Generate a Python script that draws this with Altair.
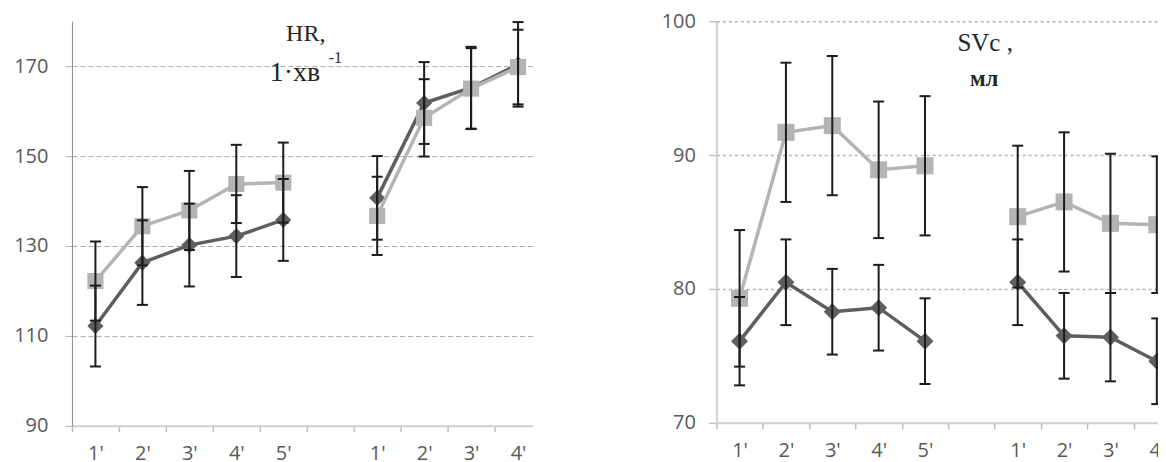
import json
import altair as alt
import pandas as pd

# ---------------- data ----------------
cats = ["1'", "2'", "3'", "4'", "5'", "", "1'", "2'", "3'", "4'"]
slots = [0, 1, 2, 3, 4, 6, 7, 8, 9]
groups = [1, 1, 1, 1, 1, 2, 2, 2, 2]

hr_dark = [112.2, 126.3, 130.2, 132.2, 135.8, 140.7, 161.8, 165.2, 170.4]
hr_dark_err = [9.0, 9.4, 9.2, 9.1, 9.1, 9.3, 9.1, 9.1, 9.4]
hr_light = [122.2, 134.4, 137.9, 143.8, 144.1, 136.7, 158.5, 165.0, 169.8]
hr_light_err = [8.8, 8.7, 8.8, 8.7, 8.9, 8.7, 8.6, 9.0, 8.3]

sv_dark = [76.1, 80.5, 78.3, 78.6, 76.1, 80.5, 76.5, 76.4, 74.6]
sv_dark_err = [3.3, 3.2, 3.2, 3.2, 3.2, 3.2, 3.2, 3.3, 3.2]
sv_light = [79.3, 91.7, 92.2, 88.9, 89.2, 85.4, 86.5, 84.9, 84.8]
sv_light_err = [5.1, 5.2, 5.2, 5.1, 5.2, 5.3, 5.2, 5.2, 5.1]

hr_ticks = [90, 110, 130, 150, 170]
sv_ticks = [70, 80, 90, 100]

DARK = "#5e5e5e"
LIGHT = "#b4b4b4"
BAR = "#1c1c1c"
LABEL_FONT = "Open Sans"
SERIF = "Liberation Serif"


def frame(dark, dark_err, light, light_err):
    rows = []
    for series, vals, errs in (("A", dark, dark_err), ("B", light, light_err)):
        for s, g, v, e in zip(slots, groups, vals, errs):
            rows.append(dict(pos=s + 0.5, group=g, series=series,
                             val=v, lo=v - e, hi=v + e))
    return pd.DataFrame(rows)


def panel(df, width, height, band, ydom, yaxis, texts, msize):
    xmax = width / band
    xscale = alt.Scale(domain=[0, xmax], nice=False, zero=False)
    xaxis = alt.Axis(
        values=list(range(10)),
        labelExpr=json.dumps(cats) + "[round(datum.value)]",
        labelOffset=band / 2,
        labelFlush=False,
        labelOverlap=False,
        grid=False,
        title=None,
        domainColor="#d0d0d0",
        domainWidth=2,
        tickColor="#bdbdbd",
        tickWidth=1.5,
        tickSize=6,
        labelPadding=12,
        labelFont=LABEL_FONT,
        labelFontSize=20,
        labelColor="#595959",
    )
    yscale = alt.Scale(domain=ydom, nice=False, zero=False)

    def X():
        return alt.X("pos:Q", scale=xscale, axis=xaxis)

    def Y(field):
        return alt.Y(field, scale=yscale, axis=yaxis)

    base = alt.Chart(df)
    dark = base.transform_filter("datum.series == 'A'")
    light = base.transform_filter("datum.series == 'B'")

    layers = [
        dark.mark_line(color=DARK, strokeWidth=3.5).encode(
            x=X(), y=Y("val:Q"), detail="group:N"),
        dark.mark_point(shape="diamond", filled=True, size=msize, color=DARK,
                        opacity=1).encode(x=X(), y=Y("val:Q")),
        light.mark_line(color=LIGHT, strokeWidth=3.5).encode(
            x=X(), y=Y("val:Q"), detail="group:N"),
        light.mark_point(shape="square", filled=True, size=msize, color=LIGHT,
                         opacity=1).encode(x=X(), y=Y("val:Q")),
        base.mark_rule(color=BAR, strokeWidth=2).encode(
            x=X(), y=Y("lo:Q"), y2="hi:Q"),
        base.transform_fold(["lo", "hi"], as_=["k", "v"]).mark_tick(
            orient="horizontal", size=11, thickness=2, color=BAR, opacity=1
        ).encode(x=X(), y=Y("v:Q")),
    ]
    one = alt.Chart(pd.DataFrame({"a": [0]}))
    for txt, px, py, size, align, weight in texts:
        layers.append(
            one.mark_text(font=SERIF, fontSize=size, align=align,
                          baseline="alphabetic", color="#262626",
                          fontWeight=weight).encode(
                x=alt.value(px), y=alt.value(py), text=alt.value(txt))
        )
    return alt.layer(*layers).properties(width=width, height=height)


hr_df = frame(hr_dark, hr_dark_err, hr_light, hr_light_err)
sv_df = frame(sv_dark, sv_dark_err, sv_light, sv_light_err)

hr_axis = alt.Axis(
    values=hr_ticks, grid=True, gridDash=[5, 3], gridColor="#a8a8a8",
    gridWidth=1, domainColor="#8c8c8c", domainWidth=1, tickSize=7,
    tickColor="#b0b0b0", tickWidth=1, labelPadding=17, minExtent=64,
    maxExtent=64, title=None, labelFont=LABEL_FONT, labelFontSize=20,
    labelColor="#595959",
)
sv_axis = alt.Axis(
    values=sv_ticks, grid=True, gridDash=[3, 3], gridColor="#b4b4b4",
    gridWidth=1.5, domainColor="#d0d0d0", domainWidth=2, tickSize=8,
    tickColor="#c4c4c4", tickWidth=1.5, labelPadding=13, title=None,
    labelFont=LABEL_FONT, labelFontSize=20, labelColor="#595959",
)

hr_texts = [
    ("HR,", 234, 20, 24, "center", "normal"),
    ("1·хв", 198, 60, 28, "left", "normal"),
    ("-1", 257, 42, 16, "left", "normal"),
]
sv_texts = [
    ("SVc ,", 269, 30, 25, "center", "normal"),
    ("мл", 268, 65, 23, "center", "bold"),
]

left = panel(hr_df, 461, 405, 47.0, [90, 180], hr_axis, hr_texts, 260)
right = panel(sv_df, 441, 402, 46.4, [70, 100], sv_axis, sv_texts, 290)

chart = (
    alt.hconcat(left, right, spacing=184, bounds="flush")
    .properties(padding={"left": 0, "top": 3, "right": -8, "bottom": 0})
    .configure_view(stroke=None)
)

chart.save("out.html", embed_options={"renderer": "svg", "actions": False})
